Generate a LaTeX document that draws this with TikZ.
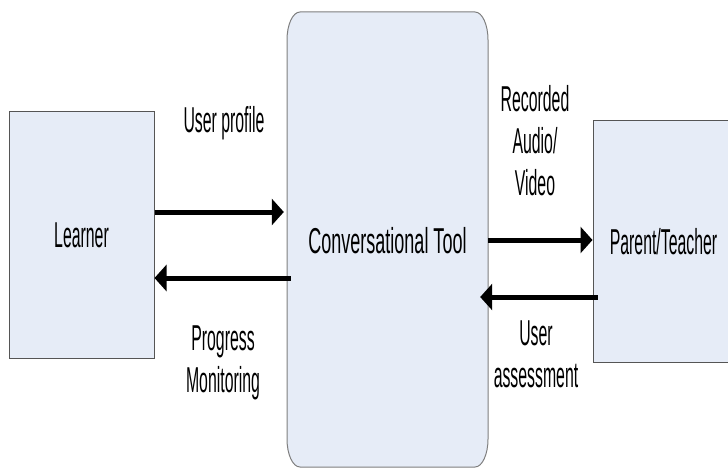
\documentclass[tikz,border=0pt]{standalone}
\usepackage{fontspec}
\setmainfont{Liberation Sans}[FakeStretch=0.44]
\newfontfamily\widefont{Liberation Sans}[FakeStretch=0.50]
\usetikzlibrary{arrows.meta}
\definecolor{boxfill}{HTML}{E6ECF7}
\definecolor{boxline}{HTML}{555555}
\definecolor{toolline}{HTML}{7F7F7F}
\begin{document}
\begin{tikzpicture}[x=1pt,y=-1pt,
  every node/.style={font=\fontsize{36}{42}\selectfont, inner sep=0pt},
  sidebox/.style={draw=boxline, fill=boxfill, line width=1pt},
  toolbox/.style={minimum width=201pt, minimum height=455pt},
  arr/.style={line width=5pt, -{Triangle[length=12pt,width=26pt]}},
  lbl/.style={align=center, anchor=base}]
\useasboundingbox (0,0) rectangle (728,468);
% central rounded box outline
\path[draw=toolline, fill=boxfill, line width=1pt]
  (287,40) .. controls (287,24.5) and (292.8,12) .. (300,12) -- (475,12)
  .. controls (482.2,12) and (488,24.5) .. (488,40) -- (488,439)
  .. controls (488,454.5) and (482.2,467) .. (475,467) -- (300,467)
  .. controls (292.8,467) and (287,454.5) .. (287,439) -- cycle;
\node[toolbox] (tool) at (387.5,240.5) {\widefont Conversational Tool};
\node[sidebox, minimum width=145pt, minimum height=246pt] (learner) at (81.5,235) {Learner};
\node[sidebox, minimum width=141pt, minimum height=241pt] (parent) at (663.5,241.5) {Parent/Teacher};
% arrows
\draw[arr, shorten >=3pt] (learner.east |- 0,212) -- (tool.west |- 0,212);
\draw[arr, shorten <=-4pt] (tool.west |- 0,278) -- (learner.east |- 0,278);
\draw[arr] (tool.east |- 0,240) -- (parent.west |- 0,240);
\draw[arr, shorten <=-5pt, shorten >=-8pt] (parent.west |- 0,297) -- (tool.east |- 0,297);
% labels (anchor base = baseline of last line)
\node[lbl] (up) at (224,132) {User profile};
\node[lbl] (pm) at (223,392) {Progress\\Monitoring};
\node[lbl] (rav) at (535,195) {Recorded\\Audio/\\Video};
\node[lbl] (ua) at (536,387) {User\\assessment};
\end{tikzpicture}
\end{document}
